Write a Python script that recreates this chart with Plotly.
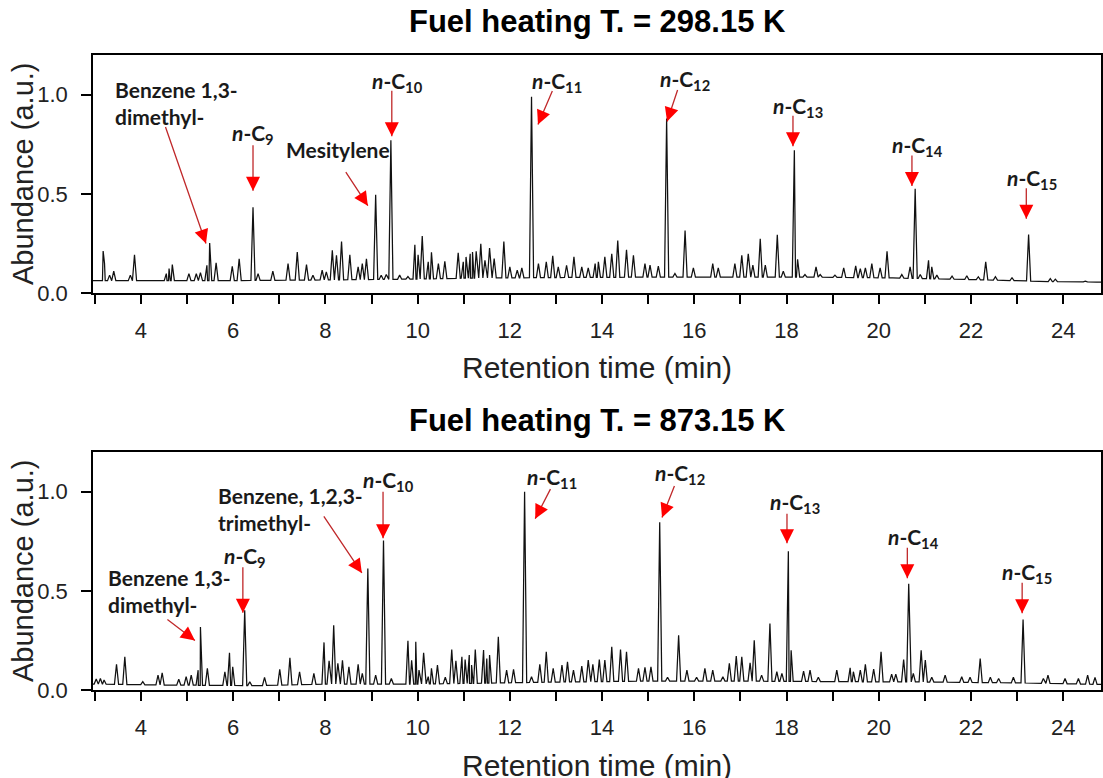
import numpy as np
import plotly.graph_objects as go

# ---------------- data ----------------
# Panel 1: Fuel heating T. = 298.15 K  -- peak retention times (min) and apex abundances
top_rt = [3.18, 3.21, 3.32, 3.41, 3.77, 3.86, 4.55, 4.61, 4.68, 5.04, 5.20, 5.29, 5.43, 5.49,
          5.63, 5.98, 6.13, 6.43, 6.54, 6.86, 7.19, 7.39, 7.59, 7.73, 7.93, 8.02, 8.15, 8.24,
          8.35, 8.53, 8.71, 8.80, 8.89, 9.09, 9.21, 9.32, 9.42, 9.61, 9.79, 9.94, 10.01, 10.10,
          10.23, 10.30, 10.45, 10.59, 10.88, 10.99, 11.05, 11.14, 11.19, 11.27, 11.37, 11.46,
          11.56, 11.66, 11.87, 12.00, 12.16, 12.26, 12.47, 12.62, 12.79, 12.93, 13.05, 13.23,
          13.39, 13.56, 13.70, 13.85, 13.92, 14.06, 14.21, 14.34, 14.53, 14.68, 14.93, 15.04,
          15.22, 15.40, 15.58, 15.80, 15.98, 16.40, 16.52, 16.88, 17.03, 17.17, 17.27, 17.43,
          17.54, 17.80, 17.93, 18.17, 18.24, 18.40, 18.64, 18.73, 19.05, 19.24, 19.50, 19.60,
          19.71, 19.85, 20.03, 20.18, 20.50, 20.68, 20.79, 20.90, 21.08, 21.15, 21.26, 21.59,
          21.91, 22.16, 22.32, 22.53, 22.89, 23.25, 23.47, 23.72, 23.83, 24.19, 24.48, 24.77]
top_ab = [0.212, 0.148, 0.090, 0.110, 0.090, 0.193, 0.098, 0.123, 0.143, 0.098, 0.097, 0.103, 0.140, 0.252,
          0.152, 0.135, 0.173, 0.432, 0.098, 0.110, 0.148, 0.207, 0.143, 0.090, 0.115, 0.107, 0.215, 0.190,
          0.260, 0.193, 0.132, 0.148, 0.173, 0.495, 0.090, 0.093, 0.770, 0.090, 0.083, 0.243, 0.193, 0.287,
          0.157, 0.205, 0.148, 0.160, 0.203, 0.157, 0.182, 0.198, 0.207, 0.210, 0.248, 0.165,
          0.227, 0.173, 0.260, 0.132, 0.115, 0.127, 0.990, 0.148, 0.157, 0.187, 0.132, 0.140,
          0.182, 0.132, 0.127, 0.148, 0.157, 0.182, 0.198, 0.265, 0.218, 0.190, 0.148, 0.140,
          0.135, 0.880, 0.098, 0.315, 0.127, 0.148, 0.127, 0.148, 0.190, 0.198, 0.140, 0.273,
          0.140, 0.293, 0.110, 0.720, 0.170, 0.093, 0.132, 0.093, 0.090, 0.127, 0.137, 0.123,
          0.127, 0.148, 0.127, 0.210, 0.093, 0.132, 0.525, 0.093, 0.165, 0.132, 0.090, 0.085,
          0.087, 0.082, 0.157, 0.082, 0.077, 0.295, 0.060, 0.073, 0.070, 0.060, 0.060, 0.057]
top_base_rt = [2.96, 4.0, 6.3, 8.1, 9.9, 11.1, 13.0, 15.1, 16.7, 18.5, 20.3, 21.5, 22.7, 23.6, 24.82]
top_base_ab = [0.062, 0.062, 0.063, 0.066, 0.070, 0.075, 0.078, 0.080, 0.080, 0.080, 0.076, 0.070, 0.064, 0.058, 0.055]

# Panel 2: Fuel heating T. = 873.15 K
bot_rt = [3.03, 3.12, 3.20, 3.47, 3.65, 4.04, 4.37, 4.46, 4.82, 4.98, 5.09, 5.24, 5.29, 5.44,
          5.82, 5.92, 5.99, 6.25, 6.36, 6.68, 7.01, 7.23, 7.44, 7.75, 7.97, 8.08, 8.18, 8.27,
          8.37, 8.51, 8.71, 8.80, 8.92, 9.09, 9.26, 9.43, 9.79, 9.87, 9.96, 10.03, 10.13, 10.23,
          10.30, 10.43, 10.60, 10.74, 10.83, 10.96, 11.03, 11.12, 11.17, 11.25, 11.43, 11.50,
          11.56, 11.75, 11.93, 12.08, 12.32, 12.47, 12.65, 12.79, 12.94, 13.13, 13.25, 13.38,
          13.56, 13.70, 13.80, 13.94, 14.06, 14.21, 14.40, 14.53, 14.79, 14.93, 15.06, 15.25,
          15.42, 15.66, 15.84, 16.05, 16.23, 16.40, 16.62, 16.76, 16.91, 17.03, 17.21, 17.30,
          17.46, 17.64, 17.79, 17.90, 18.04, 18.10, 18.37, 18.51, 18.69, 19.09, 19.38, 19.45,
          19.60, 19.71, 19.89, 20.05, 20.28, 20.37, 20.54, 20.65, 20.75, 20.92, 21.01, 21.15,
          21.44, 21.80, 21.98, 22.20, 22.42, 22.60, 22.92, 23.13, 23.57, 23.67, 24.04, 24.33,
          24.53, 24.69]
bot_ab = [0.055, 0.058, 0.050, 0.130, 0.167, 0.042, 0.075, 0.087, 0.054, 0.067, 0.075, 0.100, 0.318, 0.109,
          0.092, 0.188, 0.117, 0.402, 0.042, 0.064, 0.104, 0.162, 0.092, 0.084, 0.240, 0.147, 0.327, 0.134,
          0.150, 0.117, 0.130, 0.084, 0.613, 0.075, 0.754, 0.058, 0.248, 0.150, 0.243, 0.100, 0.188, 0.067,
          0.109, 0.126, 0.064, 0.204, 0.147, 0.167, 0.154, 0.176, 0.126, 0.204, 0.201, 0.159,
          0.176, 0.268, 0.100, 0.104, 1.000, 0.067, 0.130, 0.193, 0.109, 0.126, 0.142, 0.100,
          0.120, 0.151, 0.130, 0.154, 0.151, 0.218, 0.204, 0.193, 0.109, 0.114, 0.117, 0.846,
          0.064, 0.276, 0.100, 0.064, 0.109, 0.100, 0.067, 0.134, 0.171, 0.167, 0.137, 0.251,
          0.075, 0.335, 0.092, 0.084, 0.700, 0.200, 0.095, 0.100, 0.064, 0.100, 0.112, 0.092,
          0.100, 0.130, 0.105, 0.193, 0.080, 0.080, 0.154, 0.536, 0.084, 0.200, 0.151, 0.064,
          0.075, 0.067, 0.064, 0.159, 0.064, 0.058, 0.064, 0.355, 0.058, 0.075, 0.058, 0.058,
          0.075, 0.064]
bot_base_rt = [2.96, 4.5, 6.55, 8.0, 9.95, 11.0, 13.0, 15.1, 16.95, 19.2, 21.25, 23.3, 24.82]
bot_base_ab = [0.030, 0.025, 0.022, 0.030, 0.030, 0.033, 0.040, 0.045, 0.045, 0.042, 0.040, 0.035, 0.028]

x_tick_vals = list(range(3, 25))
x_tick_text = [str(v) if v % 2 == 0 else "" for v in x_tick_vals]
y_tick_vals = [0.0, 0.5, 1.0]
y_tick_text = ["0.0", "0.5", "1.0"]

panel_titles = ["Fuel heating T. = 298.15 K", "Fuel heating T. = 873.15 K"]

# labels: (text, x, y, xanchor, yanchor)
top_labels = [("Benzene 1,3-<br>dimethyl-", 3.39, 1.10, "left", "top"),
              ("<i>n</i>-C<sub>9</sub>", 6.43, 0.80, "center", "middle"),
              ("Mesitylene", 8.27, 0.725, "center", "middle"),
              ("<i>n</i>-C<sub>10</sub>", 9.57, 1.065, "center", "middle"),
              ("<i>n</i>-C<sub>11</sub>", 13.02, 1.065, "center", "middle"),
              ("<i>n</i>-C<sub>12</sub>", 15.80, 1.075, "center", "middle"),
              ("<i>n</i>-C<sub>13</sub>", 18.25, 0.94, "center", "middle"),
              ("<i>n</i>-C<sub>14</sub>", 20.85, 0.74, "center", "middle"),
              ("<i>n</i>-C<sub>15</sub>", 23.33, 0.575, "center", "middle")]
# arrows: (tip x, tip y, tail dx px, tail dy px)
top_arrows = [(5.41, 0.25, -41, -118), (6.43, 0.515, 0, -47), (8.92, 0.44, -23, -35),
              (9.44, 0.79, 0, -47), (12.61, 0.85, 15, -35), (15.41, 0.865, 11, -33),
              (18.14, 0.74, 0, -32), (20.72, 0.54, 0, -32), (23.20, 0.375, 0, -32)]

bot_labels = [("Benzene 1,3-<br>dimethyl-", 3.24, 0.64, "left", "top"),
              ("<i>n</i>-C<sub>9</sub>", 6.26, 0.67, "center", "middle"),
              ("Benzene, 1,2,3-<br>trimethyl-", 5.63, 1.055, "left", "top"),
              ("<i>n</i>-C<sub>10</sub>", 9.36, 1.055, "center", "middle"),
              ("<i>n</i>-C<sub>11</sub>", 12.92, 1.07, "center", "middle"),
              ("<i>n</i>-C<sub>12</sub>", 15.69, 1.09, "center", "middle"),
              ("<i>n</i>-C<sub>13</sub>", 18.19, 0.945, "center", "middle"),
              ("<i>n</i>-C<sub>14</sub>", 20.75, 0.764, "center", "middle"),
              ("<i>n</i>-C<sub>15</sub>", 23.22, 0.588, "center", "middle")]
bot_arrows = [(5.17, 0.25, -29, -22), (6.21, 0.39, 0, -47), (8.79, 0.59, -39, -58),
              (9.25, 0.765, 0, -48), (12.55, 0.864, 16, -31), (15.30, 0.87, 13, -33),
              (18.01, 0.74, 0, -31), (20.62, 0.563, 0, -32), (23.11, 0.387, 0, -32)]

# ---------------- build ----------------
X_RANGE = [2.96, 24.82]
Y_RANGE = [0, 1.2]
HW = 0.045
AXFONT = "Liberation Sans, Arial, sans-serif"
LABFONT = "Lato, Noto Sans, sans-serif"


def trace_xy(rt, ab, brt, bab):
    rt = np.asarray(rt, float)
    ab = np.asarray(ab, float)
    feet = np.concatenate([rt - HW, rt + HW])
    x = np.concatenate([np.asarray(brt, float), rt, feet])
    y = np.concatenate([np.asarray(bab, float), ab, np.interp(feet, brt, bab)])
    order = np.argsort(x, kind="stable")
    return x[order], y[order]


fig = go.Figure()
for i, (rt, ab, brt, bab) in enumerate([(top_rt, top_ab, top_base_rt, top_base_ab),
                                         (bot_rt, bot_ab, bot_base_rt, bot_base_ab)]):
    x, y = trace_xy(rt, ab, brt, bab)
    fig.add_trace(go.Scatter(x=x, y=y, mode="lines", line=dict(color="#111111", width=1.25),
                             xaxis="x" if i == 0 else "x2", yaxis="y" if i == 0 else "y2",
                             showlegend=False, hoverinfo="skip"))

H, W = 778, 1103
MT, MB, ML, MR = 55, 88, 93, 2
ph = H - MT - MB
pw = W - ML - MR
top_dom = [(690 - 293) / ph, 1.0]
bot_dom = [0.0, (690 - 452) / ph]

layout = dict(width=W, height=H, margin=dict(l=ML, r=MR, t=MT, b=MB, autoexpand=False),
              template="none",
              paper_bgcolor="white", plot_bgcolor="white", showlegend=False,
              font=dict(family=AXFONT, color="black"))


def xaxis(anchor):
    return dict(range=X_RANGE, domain=[0, 1], anchor=anchor, tickmode="array",
                tickvals=x_tick_vals, ticktext=x_tick_text, ticks="outside", ticklen=9,
                tickwidth=1.5, tickcolor="black", showline=True, linecolor="black",
                linewidth=1.5, mirror=True, showgrid=False, zeroline=False, automargin=False,
                tickfont=dict(size=22, family=AXFONT, color="#222"), ticklabelstandoff=8)


def xtop(anchor, over):
    return dict(range=X_RANGE, domain=[0, 1], anchor=anchor, overlaying=over, side="top",
                tickmode="array", tickvals=x_tick_vals, ticks="inside", ticklen=9,
                tickwidth=1.5, tickcolor="black", showticklabels=False, showline=False,
                showgrid=False, zeroline=False, automargin=False)


def yaxis(anchor, dom):
    return dict(range=Y_RANGE, domain=dom, anchor=anchor, tickmode="array",
                tickvals=y_tick_vals, ticktext=y_tick_text, ticks="outside", ticklen=10,
                tickwidth=1.5, tickcolor="black", showline=True, linecolor="black",
                linewidth=1.5, mirror=True, showgrid=False, zeroline=False, automargin=False,
                tickfont=dict(size=22, family=AXFONT, color="#222"), ticklabelstandoff=9)


def yright(anchor, over, dom):
    return dict(range=Y_RANGE, domain=dom, anchor=anchor, overlaying=over, side="right",
                tickmode="array", tickvals=y_tick_vals, ticks="inside", ticklen=8,
                tickwidth=1.5, tickcolor="black", showticklabels=False, showline=False,
                showgrid=False, zeroline=False, automargin=False)


layout["xaxis"] = xaxis("y")
layout["yaxis"] = yaxis("x", top_dom)
layout["xaxis2"] = xaxis("y2")
layout["yaxis2"] = yaxis("x2", bot_dom)
layout["xaxis3"] = xtop("y", "x")
layout["yaxis3"] = yright("x", "y", top_dom)
layout["xaxis4"] = xtop("y2", "x2")
layout["yaxis4"] = yright("x2", "y2", bot_dom)

ann = []
# panel titles and axis titles
for title, ytitle_px, xt_px, panel_mid in [(panel_titles[0], 22, 367, 174),
                                           (panel_titles[1], 420, 765, 571)]:
    ann.append(dict(text="<b>" + title + "</b>", xref="paper", yref="paper", x=0.5,
                    y=(690 - ytitle_px) / ph, xanchor="center", yanchor="middle",
                    showarrow=False, font=dict(size=31, family=AXFONT, color="black")))
    ann.append(dict(text="Retention time (min)", xref="paper", yref="paper", x=0.5,
                    y=(690 - xt_px) / ph, xanchor="center", yanchor="middle",
                    showarrow=False, font=dict(size=30, family=AXFONT, color="#222")))
    ann.append(dict(text="Abundance (a.u.)", xref="paper", yref="paper",
                    x=(23 - ML) / pw, y=(690 - panel_mid) / ph, textangle=-90,
                    xanchor="center", yanchor="middle", showarrow=False,
                    font=dict(size=29, family=AXFONT, color="#222")))

for labels, arrows, xr, yr in [(top_labels, top_arrows, "x", "y"),
                               (bot_labels, bot_arrows, "x2", "y2")]:
    for text, lx, ly, xa, ya in labels:
        ann.append(dict(text="<b>" + text + "</b>", x=lx, y=ly, xref=xr, yref=yr,
                        xanchor=xa, yanchor=ya, align="left", showarrow=False,
                        font=dict(size=21, family=LABFONT, color="#1a1a1a")))
    for tx, ty, dx, dy in arrows:
        ann.append(dict(text="", x=tx, y=ty, xref=xr, yref=yr, ax=dx, ay=dy,
                        showarrow=True, arrowhead=0, arrowwidth=1.3, arrowcolor="#c0282a"))
        n = (dx * dx + dy * dy) ** 0.5
        hl = 14.0
        ann.append(dict(text="", x=tx, y=ty, xref=xr, yref=yr, ax=dx / n * hl, ay=dy / n * hl,
                        showarrow=True, arrowhead=2, arrowsize=2.8, arrowwidth=1,
                        arrowcolor="#ff0000"))

layout["annotations"] = ann
fig.update_layout(**layout)
fig.write_html("out.html", config={"displayModeBar": False},
               post_script="document.body.style.margin='0px';"
                           "document.body.style.overflow='hidden';")
